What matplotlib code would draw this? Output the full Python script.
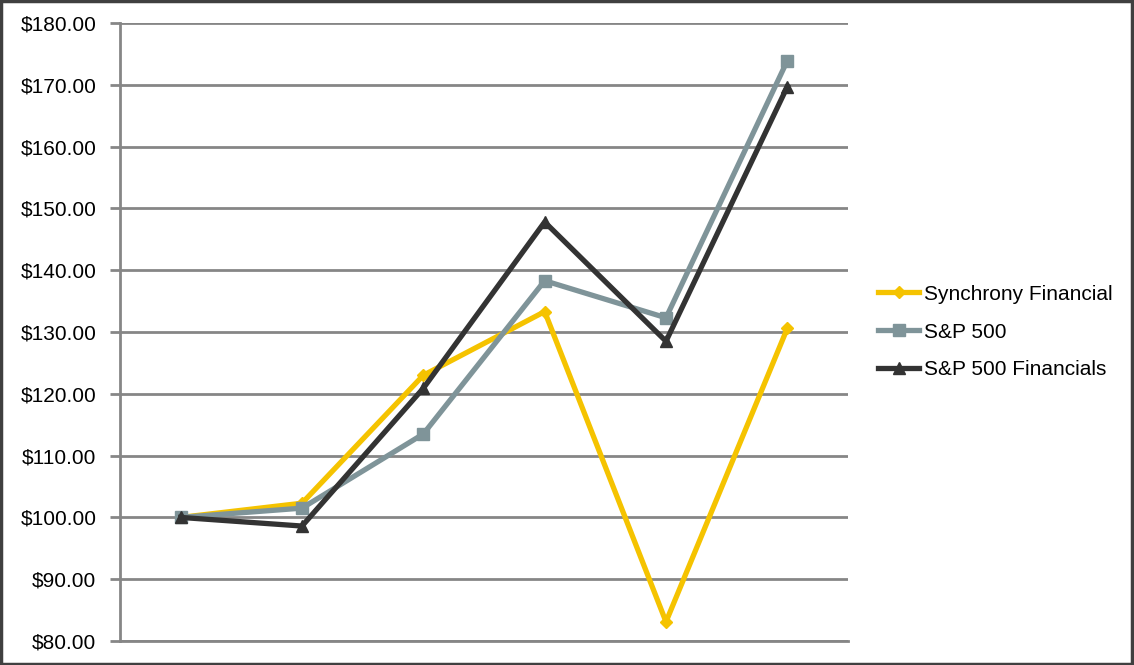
import matplotlib
matplotlib.use('Agg')
import matplotlib.pyplot as plt
from matplotlib.patches import Rectangle
from matplotlib.ticker import FuncFormatter

plt.rcParams['font.family'] = ['Liberation Sans', 'DejaVu Sans']

periods = [0, 1, 2, 3, 4, 5]
synchrony = [100.0, 102.3, 123.0, 133.3, 83.1, 130.6]
sp500 = [100.0, 101.5, 113.5, 138.3, 132.3, 173.9]
sp500_fin = [100.0, 98.6, 120.9, 147.8, 128.5, 169.7]

fig = plt.figure(figsize=(11.34, 6.65), dpi=100)
ax = fig.add_axes([120 / 1134, 24 / 665, 728 / 1134, 618 / 665])

ax.plot(periods, synchrony, color='#F5C300', lw=3.8, marker='D', ms=6,
        label='Synchrony Financial', zorder=3)
ax.plot(periods, sp500, color='#7F9499', lw=3.8, marker='s', ms=8,
        label='S&P 500', zorder=4)
ax.plot(periods, sp500_fin, color='#333333', lw=3.8, marker='^', ms=8,
        label='S&P 500 Financials', zorder=5)

ax.set_xlim(-0.5, 5.5)
ax.set_ylim(80, 180)
ax.set_yticks(range(80, 181, 10))
ax.yaxis.set_major_formatter(FuncFormatter(lambda v, p: f'${v:.2f}'))
ax.set_xticks([])
ax.grid(axis='y', color='#868686', lw=2)
ax.set_axisbelow(True)
for s in ['top', 'right']:
    ax.spines[s].set_visible(False)
for s in ['left', 'bottom']:
    ax.spines[s].set_color('#868686')
    ax.spines[s].set_linewidth(2)
ax.tick_params(axis='y', length=7, width=2, color='#868686', labelsize=15, pad=10)

ax.legend(loc='center left', bbox_to_anchor=(1.015, 0.5), frameon=False,
          fontsize=15, handlelength=2.0, handletextpad=0.2, labelspacing=0.9)

fig.patches.append(Rectangle((0.001, 0.002), 0.997, 0.996, transform=fig.transFigure,
                             fill=False, edgecolor='#404040', lw=2.5))

fig.savefig('out.png', dpi=100)
